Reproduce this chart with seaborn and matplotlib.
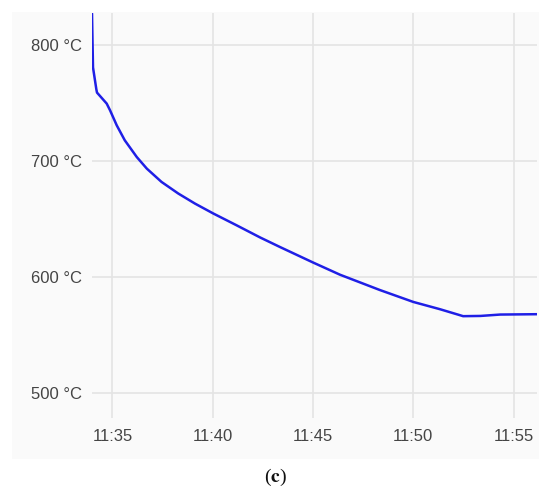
import numpy as np
import pandas as pd
import matplotlib
matplotlib.use("Agg")
import matplotlib.pyplot as plt
import matplotlib.dates as mdates
from matplotlib.patches import Rectangle
import seaborn as sns

# ---- data ----
times = ["11:33:59", "11:34:02", "11:34:12", "11:34:14", "11:34:43", "11:34:53",
         "11:35:13", "11:35:37", "11:36:13", "11:36:43", "11:37:27", "11:38:17",
         "11:39:07", "11:40:02", "11:41:11", "11:42:22", "11:43:21", "11:45:00",
         "11:46:21", "11:48:20", "11:50:00", "11:51:20", "11:52:20", "11:52:29",
         "11:53:21", "11:54:20", "11:56:10"]
temps = [827.6, 781.0, 762.0, 759.2, 749.7, 743.9,
         730.9, 718.0, 703.5, 693.5, 682.0, 672.0,
         663.3, 654.7, 644.6, 634.0, 625.8, 612.4,
         601.8, 588.6, 578.3, 572.0, 566.8, 566.0,
         566.2, 567.4, 567.7]
y_ticks = [500, 600, 700, 800]
x_ticks = ["11:35", "11:40", "11:45", "11:50", "11:55"]
caption = "c"

df = pd.DataFrame({"time": pd.to_datetime(["2020-01-01 " + t for t in times]),
                   "temp": temps})

sns.set_theme(style="white")
plt.rcParams['font.family'] = ['Liberation Sans', 'DejaVu Sans']
plt.rcParams['mathtext.fontset'] = 'stix'

W, H = 550, 493
fig = plt.figure(figsize=(W / 100, H / 100), dpi=100)
fig.patch.set_facecolor("white")

# light panel behind the chart
panel = Rectangle((12 / W, 1 - 459 / H), (539 - 12) / W, (459 - 12) / H,
                  transform=fig.transFigure, facecolor="#fafafa",
                  edgecolor="none", zorder=-10)
fig.patches.append(panel)

ax = fig.add_axes([92 / W, 1 - 418 / H, (537 - 92) / W, (418 - 13) / H])
ax.set_zorder(5)
ax.patch.set_alpha(0)

sns.lineplot(data=df, x="time", y="temp", ax=ax, color="#1f1fe6", linewidth=1.8)

t0 = pd.Timestamp("2020-01-01 11:33:59")
t1 = pd.Timestamp("2020-01-01 11:56:10")
ax.set_xlim(t0, t1)
ax.set_ylim(478, 828)

ax.set_xticks(pd.to_datetime(["2020-01-01 " + t for t in x_ticks]))
ax.xaxis.set_major_formatter(mdates.DateFormatter("%H:%M"))
ax.set_yticks(y_ticks)
ax.set_yticklabels([f"{v} °C" for v in y_ticks])

ax.grid(True, color="#e4e4e4", linewidth=1.2)
ax.set_axisbelow(True)
for s in ax.spines.values():
    s.set_visible(False)
ax.tick_params(axis="both", length=0, labelsize=12, colors="#444444")
ax.tick_params(axis="y", pad=7)
ax.tick_params(axis="x", pad=8)
ax.set_xlabel("")
ax.set_ylabel("")

fig.text(275 / W, 1 - 477 / H, r"($\mathbf{" + caption + r"}$)", ha="center", va="center",
         fontsize=14, family="Liberation Serif", color="#111111")

fig.savefig("out.png", dpi=100, facecolor="white")
